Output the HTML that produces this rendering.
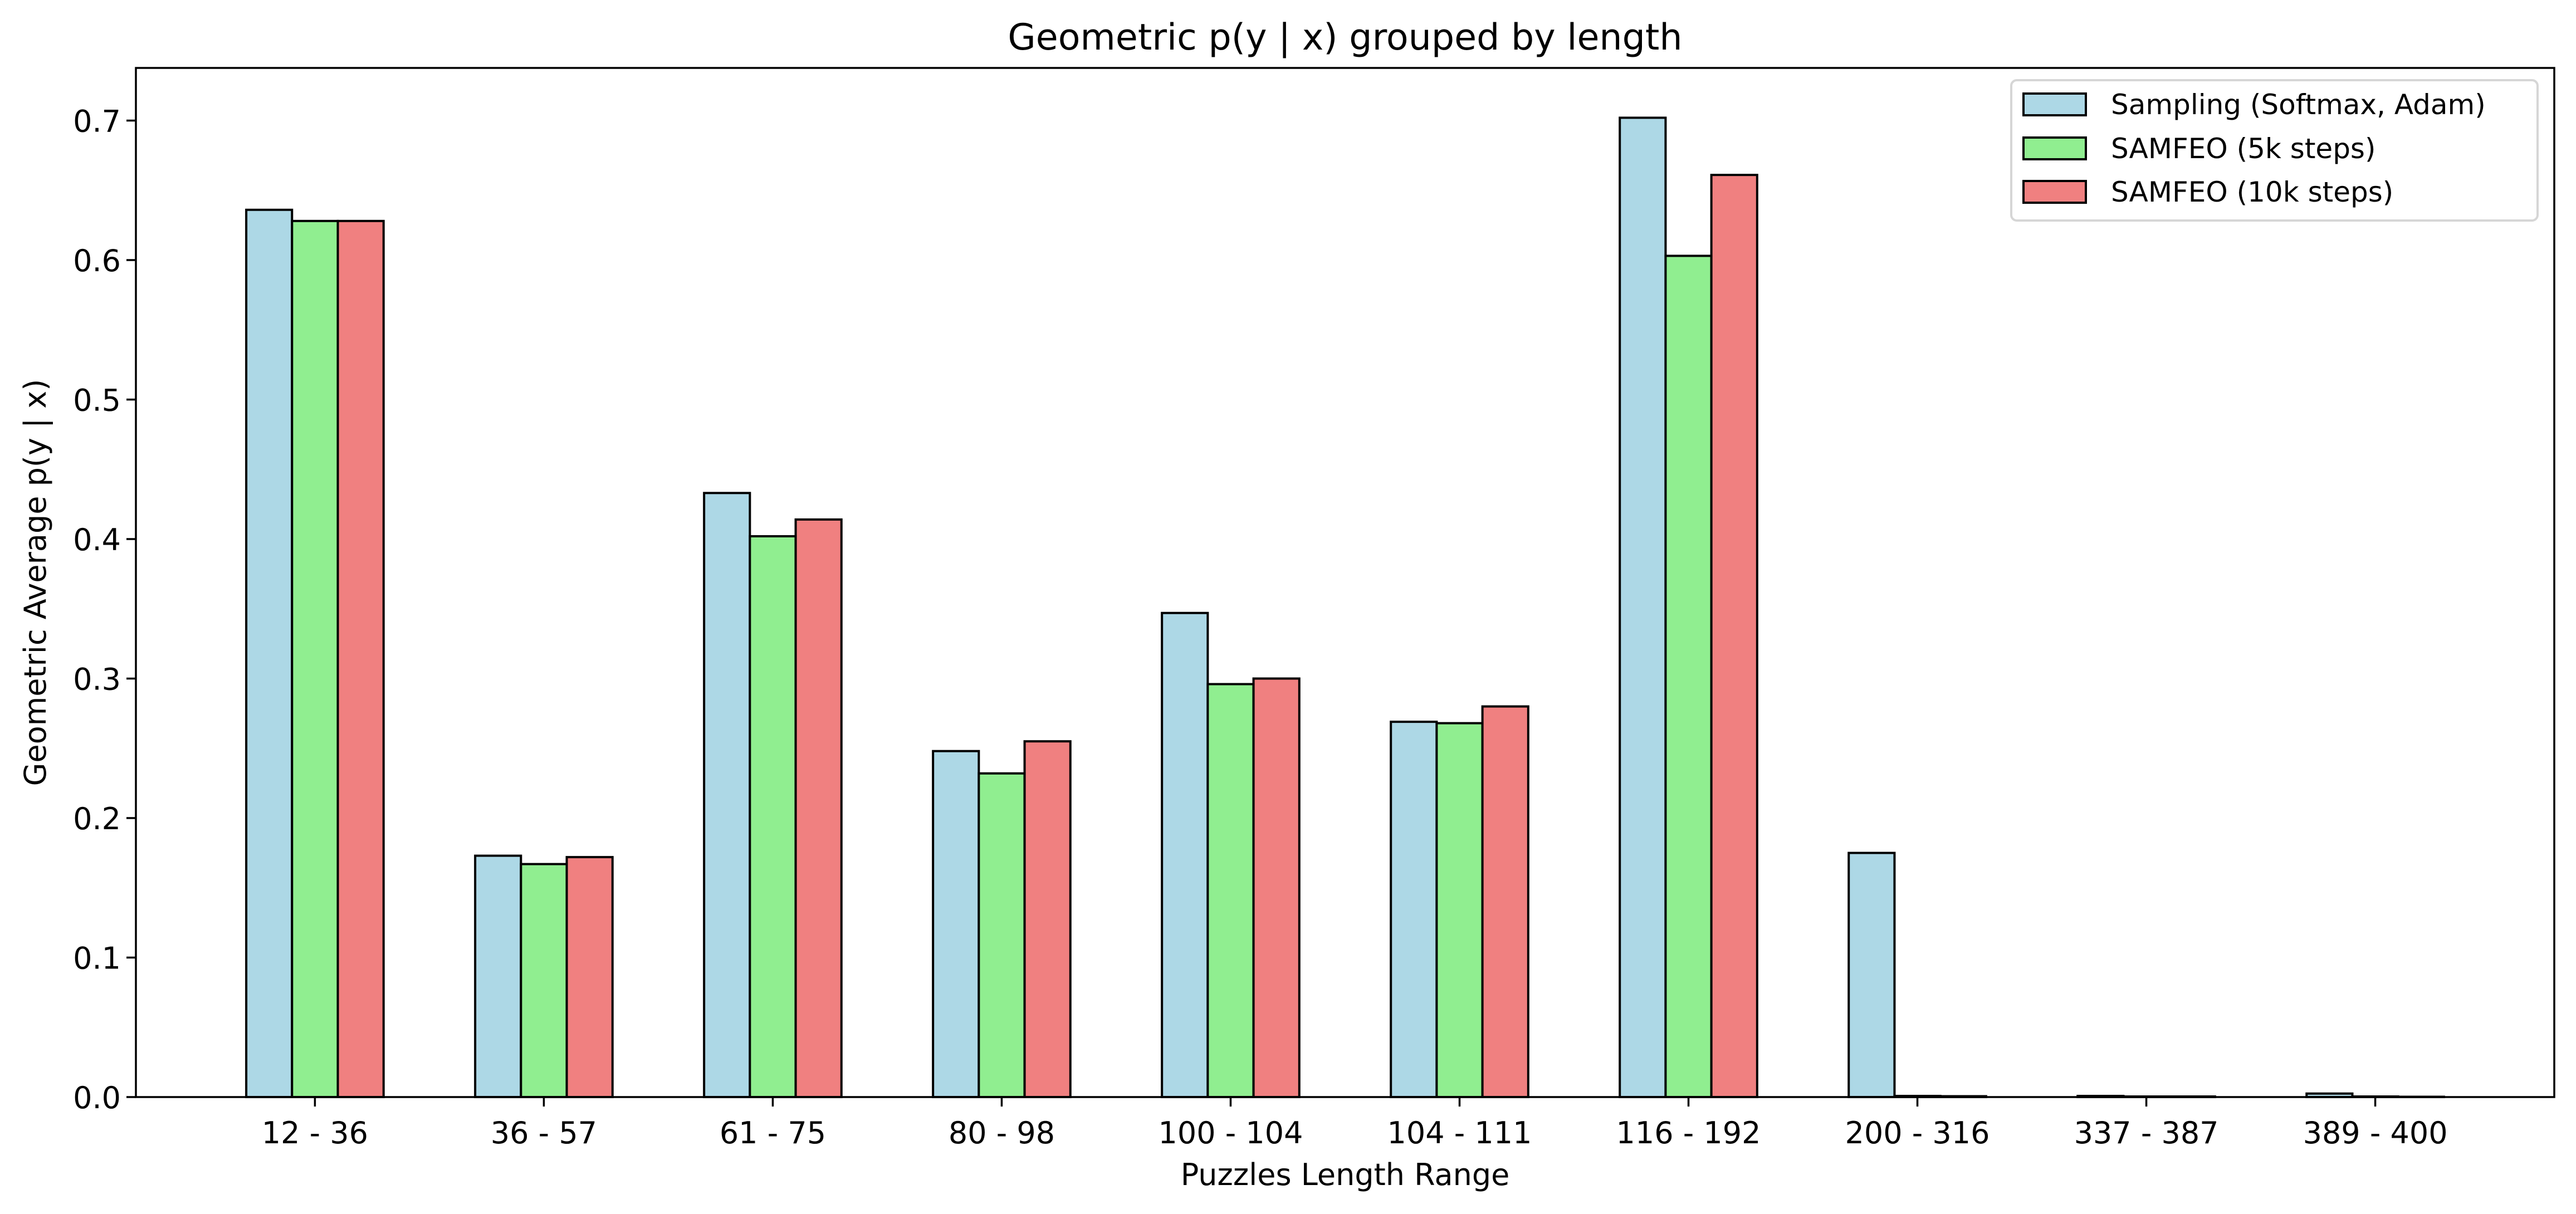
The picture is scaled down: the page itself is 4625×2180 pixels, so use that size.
<!DOCTYPE html>
<html><head><meta charset="utf-8"><style>
html,body{margin:0;padding:0;background:#fff;}
svg{display:block;font-family:"DejaVu Sans","Liberation Sans",sans-serif;}
</style></head><body>
<svg id="chart" width="4625" height="2180" viewBox="0 0 4625 2180" xmlns="http://www.w3.org/2000/svg">
<rect width="4625" height="2180" fill="#fff"/>
<text x="2415" y="89" font-size="65" text-anchor="middle">Geometric p(y | x) grouped by length</text>
<g id="bars"></g>
<g id="axes"></g>
<text x="2415" y="2128" font-size="54" text-anchor="middle">Puzzles Length Range</text>
<text transform="translate(82,1046) rotate(-90)" font-size="54" text-anchor="middle">Geometric Average p(y | x)</text>
<g>
<rect x="3611" y="144" width="945" height="252" rx="10" fill="#fff" stroke="#d6d6d6" stroke-width="4"/>
<rect x="3633" y="168" width="112" height="39" fill="#add8e6" stroke="#000" stroke-width="4"/>
<text x="3790" y="205" font-size="50">Sampling (Softmax, Adam)</text>
<rect x="3633" y="247" width="112" height="39" fill="#90ee90" stroke="#000" stroke-width="4"/>
<text x="3790" y="284" font-size="50">SAMFEO (5k steps)</text>
<rect x="3633" y="325" width="112" height="39" fill="#f08080" stroke="#000" stroke-width="4"/>
<text x="3790" y="362" font-size="50">SAMFEO (10k steps)</text>
</g>
</svg>
<script>
const categories = ["12 - 36","36 - 57","61 - 75","80 - 98","100 - 104","104 - 111","116 - 192","200 - 316","337 - 387","389 - 400"];
const samplingValues = [0.636,0.173,0.433,0.248,0.347,0.269,0.702,0.175,0.0008,0.0025];
const samfeo5kValues = [0.628,0.167,0.402,0.232,0.296,0.268,0.603,0.0008,0.0004,0.0004];
const samfeo10kValues = [0.628,0.172,0.414,0.255,0.300,0.280,0.661,0.0006,0.0004,0.0002];
const yTickValues = [0.0,0.1,0.2,0.3,0.4,0.5,0.6,0.7];
const yTickLabels = ["0.0","0.1","0.2","0.3","0.4","0.5","0.6","0.7"];

const NS = "http://www.w3.org/2000/svg";
const L = 244, R = 4586, T = 122, B = 1970;
const xMin = -0.782, xMax = 9.782, yMin = 0, yMax = 0.7377;
function xScale(v){ return L + (v - xMin) / (xMax - xMin) * (R - L); }
function yScale(v){ return B - (v - yMin) / (yMax - yMin) * (B - T); }
function mk(tag, attrs){ const e = document.createElementNS(NS, tag); for (const k in attrs) e.setAttribute(k, attrs[k]); return e; }

const barsG = document.getElementById('bars');
const axesG = document.getElementById('axes');
const series = [
  {vals: samplingValues, color: "#add8e6", off: -0.2, key: "sampling"},
  {vals: samfeo5kValues, color: "#90ee90", off: 0, key: "samfeo-5k"},
  {vals: samfeo10kValues, color: "#f08080", off: 0.2, key: "samfeo-10k"}
];
const bw = 0.2;
series.forEach(s => {
  s.vals.forEach((v, i) => {
    const x0 = xScale(i + s.off - bw/2), x1 = xScale(i + s.off + bw/2);
    const y0 = yScale(v), y1 = yScale(0);
    const r = mk('rect', {x: x0, y: y0, width: x1 - x0, height: Math.max(y1 - y0, 0), fill: s.color, stroke: "#000", "stroke-width": 4});
    
    
    barsG.appendChild(r);
  });
});

const frame = mk('rect', {x: L, y: T, width: R - L, height: B - T, fill: "none", stroke: "#000", "stroke-width": 3.5});


axesG.appendChild(frame);

yTickValues.forEach((v, i) => {
  const y = yScale(v);
  const t = mk('line', {x1: L - 17, x2: L, y1: y, y2: y, stroke: "#000", "stroke-width": 3.5});
  
  
  axesG.appendChild(t);
  const lb = mk('text', {x: L - 27, y: y + 20, "font-size": 54, "text-anchor": "end"});
  lb.textContent = yTickLabels[i];
  
  
  axesG.appendChild(lb);
});

categories.forEach((c, i) => {
  const x = xScale(i);
  const t = mk('line', {x1: x, x2: x, y1: B, y2: B + 17, stroke: "#000", "stroke-width": 3.5});
  
  
  axesG.appendChild(t);
  const lb = mk('text', {x: x, y: 2053, "font-size": 54, "text-anchor": "middle"});
  lb.textContent = c;
  
  
  axesG.appendChild(lb);
});
</script>
</body></html>
